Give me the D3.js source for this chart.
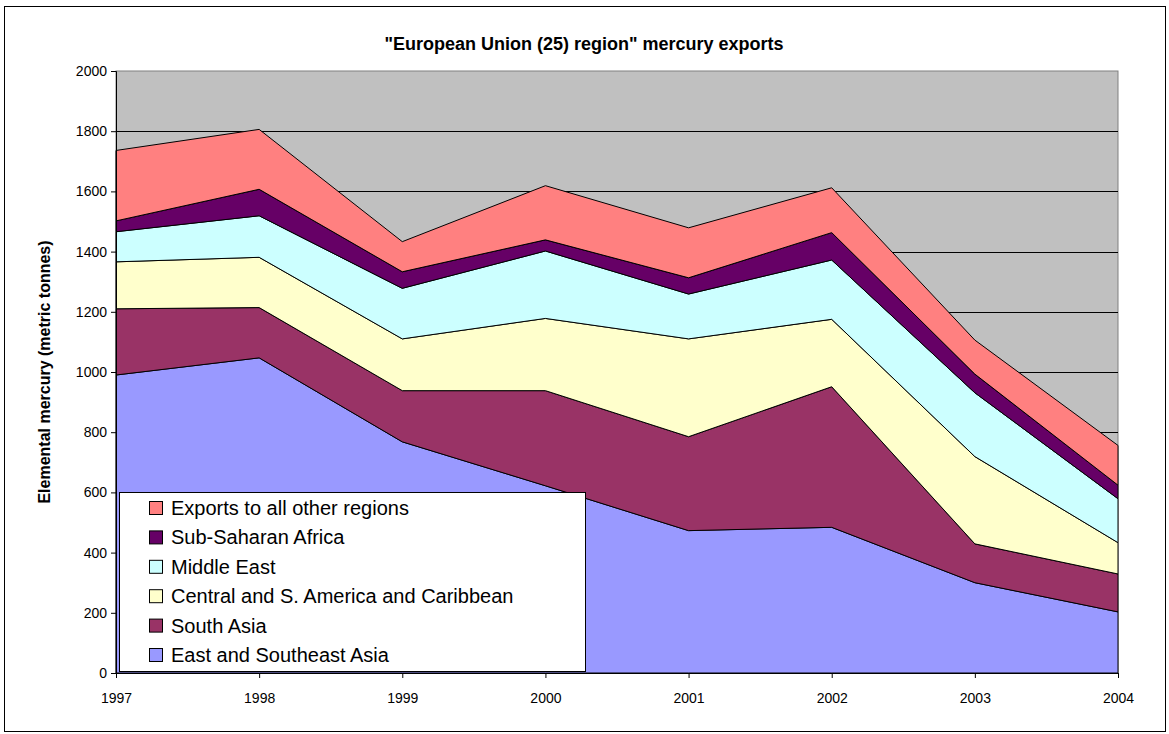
<!DOCTYPE html>
<html>
<head>
<meta charset="utf-8">
<script src="https://cdn.jsdelivr.net/npm/d3@7"></script>
<style>
  body { margin: 0; background: #fff; }
  text { font-family: Arial, "Liberation Sans", sans-serif; }
</style>
</head>
<body>
<div id="chart"></div>
<script>
// data (metric tonnes)
var years = [1997, 1998, 1999, 2000, 2001, 2002, 2003, 2004];
var seriesNames = ["East and Southeast Asia", "South Asia", "Central and S. America and Caribbean",
  "Middle East", "Sub-Saharan Africa", "Exports to all other regions"];
var eastAsia   = [990, 1047, 768, 622, 473, 484, 300, 203];
var southAsia  = [220, 167, 170, 316, 312, 467, 129, 126];
var latAmerica = [156, 167, 172, 240, 325, 224, 290, 104];
var middleEast = [100, 138, 168, 224, 149, 197, 212, 146];
var subSahara  = [36, 88, 55, 37, 54, 91, 62, 45];
var otherRegions = [234, 199, 100, 180, 166, 149, 113, 132];
var seriesColors = ["#9999ff", "#993366", "#ffffcc", "#ccffff", "#660066", "#ff8080"];
var yTicks = [0, 200, 400, 600, 800, 1000, 1200, 1400, 1600, 1800, 2000];

var width = 1169, height = 734;
var plotLeft = 116, plotRight = 1118, plotTop = 71, plotBottom = 673;

var svg = d3.select("#chart").append("svg")
  .attr("width", width).attr("height", height);

// outer chart border
svg.append("rect").attr("x", 4.5).attr("y", 6.5).attr("width", 1161).attr("height", 725)
  .attr("fill", "#fff").attr("stroke", "#000").attr("stroke-width", 1);

var x = d3.scaleLinear().domain([1997, 2004]).range([plotLeft, plotRight]);
var y = d3.scaleLinear().domain([0, 2000]).range([plotBottom, plotTop]);

// plot background
svg.append("rect").attr("x", plotLeft).attr("y", plotTop)
  .attr("width", plotRight - plotLeft).attr("height", plotBottom - plotTop)
  .attr("fill", "#c0c0c0").attr("stroke", "#808080");

// gridlines
svg.append("g").selectAll("line").data(yTicks.slice(1, -1)).enter().append("line")
  .attr("x1", plotLeft).attr("x2", plotRight)
  .attr("y1", function (d) { return Math.round(y(d)) + 0.5; })
  .attr("y2", function (d) { return Math.round(y(d)) + 0.5; })
  .attr("stroke", "#000");

var rows = years.map(function (yr, i) {
  return { year: yr, s0: eastAsia[i], s1: southAsia[i], s2: latAmerica[i],
    s3: middleEast[i], s4: subSahara[i], s5: otherRegions[i] };
});
var stack = d3.stack().keys(["s0", "s1", "s2", "s3", "s4", "s5"]);
var layers = stack(rows);

var area = d3.area()
  .x(function (d) { return x(d.data.year); })
  .y0(function (d) { return y(d[0]); })
  .y1(function (d) { return y(d[1]); });

svg.append("g").selectAll("path").data(layers).enter().append("path")
  .attr("d", area)
  .attr("fill", function (d, i) { return seriesColors[i]; })
  .attr("stroke", "#000").attr("stroke-width", 1);

// axes
var yAxis = d3.axisLeft(y).tickValues(yTicks).tickSize(5).tickPadding(4).tickFormat(d3.format("d"));
var gy = svg.append("g").attr("transform", "translate(" + plotLeft + ",0)").call(yAxis);
gy.selectAll("text").attr("font-size", 14).attr("fill", "#000").attr("font-family", "Arial");
gy.select(".domain").attr("stroke", "#000");

var xAxis = d3.axisBottom(x).tickValues(years).tickSize(5).tickPadding(15).tickFormat(d3.format("d"));
var gx = svg.append("g").attr("transform", "translate(0," + plotBottom + ")").call(xAxis);
gx.selectAll("text").attr("font-size", 14).attr("fill", "#000").attr("font-family", "Arial");
gx.select(".domain").attr("stroke", "#000");

// titles
svg.append("text").attr("x", 584).attr("y", 50).attr("text-anchor", "middle")
  .attr("font-size", 18).attr("font-weight", "bold")
  .text("\"European Union (25) region\" mercury exports");

svg.append("text").attr("transform", "translate(50,372) rotate(-90)").attr("text-anchor", "middle")
  .attr("font-size", 16).attr("font-weight", "bold")
  .text("Elemental mercury (metric tonnes)");

// legend
var legend = svg.append("g");
legend.append("rect").attr("x", 119.5).attr("y", 492.5).attr("width", 466).attr("height", 179)
  .attr("fill", "#fff").attr("stroke", "#000");

var legendOrder = [5, 4, 3, 2, 1, 0];
var item = legend.selectAll("g.item").data(legendOrder).enter().append("g")
  .attr("class", "item")
  .attr("transform", function (d, i) { return "translate(149," + (501 + i * 29.4) + ")"; });
item.append("rect").attr("x", 0.5).attr("y", 0.5).attr("width", 13).attr("height", 13)
  .attr("fill", function (d) { return seriesColors[d]; }).attr("stroke", "#000");
item.append("text").attr("x", 22).attr("y", 14).attr("font-size", 20)
  .text(function (d) { return seriesNames[d]; });
</script>
</body>
</html>
